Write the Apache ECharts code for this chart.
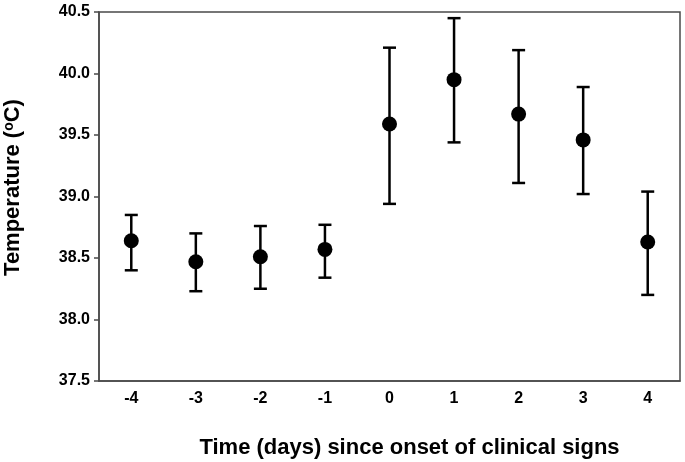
<!DOCTYPE html>
<html>
<head>
<meta charset="utf-8">
<script src="https://cdn.jsdelivr.net/npm/echarts@6/dist/echarts.min.js"></script>
<style>html,body{margin:0;padding:0;background:#fff}#c{width:685px;height:462px}</style>
</head>
<body>
<div id="c"></div>
<script>
const days = ['-4','-3','-2','-1','0','1','2','3','4'];
const meanTemp = [38.64, 38.47, 38.51, 38.57, 39.59, 39.95, 39.67, 39.46, 38.63];
const upperTemp = [38.85, 38.70, 38.76, 38.77, 40.21, 40.45, 40.19, 39.89, 39.04];
const lowerTemp = [38.40, 38.23, 38.25, 38.34, 38.94, 39.44, 39.11, 39.02, 38.20];
const yTicks = [37.5, 38.0, 38.5, 39.0, 39.5, 40.0, 40.5];

const FONT = '"Liberation Sans", Arial, sans-serif';
const chart = echarts.init(document.getElementById('c'));
const errData = days.map((d, i) => [i, lowerTemp[i], upperTemp[i]]);

chart.setOption({
  animation: false,
  grid: { left: 99, right: 5, top: 12, bottom: 81, containLabel: false, outerBoundsMode: 'none',
    show: true, borderColor: '#4a4a4a', borderWidth: 1.5, backgroundColor: 'transparent' },
  xAxis: {
    type: 'category', data: days, boundaryGap: true,
    axisLine: { lineStyle: { color: '#4a4a4a', width: 1.5 } },
    axisTick: { alignWithLabel: true, length: 5, lineStyle: { color: '#4a4a4a', width: 1.5 } },
    axisLabel: { color: '#000', fontFamily: FONT, fontWeight: 'bold', fontSize: 16, margin: 10 },
    name: 'Time (days) since onset of clinical signs', nameLocation: 'middle', nameGap: 56,
    nameTextStyle: { color: '#000', fontFamily: FONT, fontWeight: 'bold', fontSize: 22, padding: [0, 0, 0, 40] }
  },
  yAxis: {
    type: 'value', min: yTicks[0], max: yTicks[yTicks.length - 1], interval: 0.5,
    splitLine: { show: false },
    axisLine: { show: true, lineStyle: { color: '#4a4a4a', width: 1.5 } },
    axisTick: { show: true, length: 5, lineStyle: { color: '#4a4a4a', width: 1.5 } },
    axisLabel: { color: '#000', fontFamily: FONT, fontWeight: 'bold', fontSize: 16, margin: 9, formatter: v => v.toFixed(1) },
    name: 'Temperature ({sup|o}C)', nameLocation: 'middle', nameGap: 75, nameRotate: 90,
    nameTextStyle: { color: '#000', fontFamily: FONT, fontWeight: 'bold', fontSize: 22, padding: [0, 0, 0, 18],
      rich: { sup: { fontFamily: FONT, fontWeight: 'bold', fontSize: 14, verticalAlign: 'top', color: '#000', padding: [0, 0, 8, 0] } } }
  },
  series: [
    {
      type: 'custom', data: errData, encode: { x: 0, y: [1, 2] }, z: 2,
      renderItem: (params, api) => {
        const lo = api.coord([api.value(0), api.value(1)]);
        const hi = api.coord([api.value(0), api.value(2)]);
        const hw = 6.5;
        const st = { stroke: '#000', lineWidth: 2.5 };
        return { type: 'group', children: [
          { type: 'line', shape: { x1: lo[0], y1: lo[1], x2: hi[0], y2: hi[1] }, style: st },
          { type: 'line', shape: { x1: lo[0] - hw, y1: lo[1], x2: lo[0] + hw, y2: lo[1] }, style: st },
          { type: 'line', shape: { x1: hi[0] - hw, y1: hi[1], x2: hi[0] + hw, y2: hi[1] }, style: st }
        ]};
      }
    },
    {
      type: 'scatter', data: meanTemp, symbol: 'circle', symbolSize: 15, z: 3,
      itemStyle: { color: '#000', opacity: 1 }
    }
  ]
});
</script>
</body>
</html>
